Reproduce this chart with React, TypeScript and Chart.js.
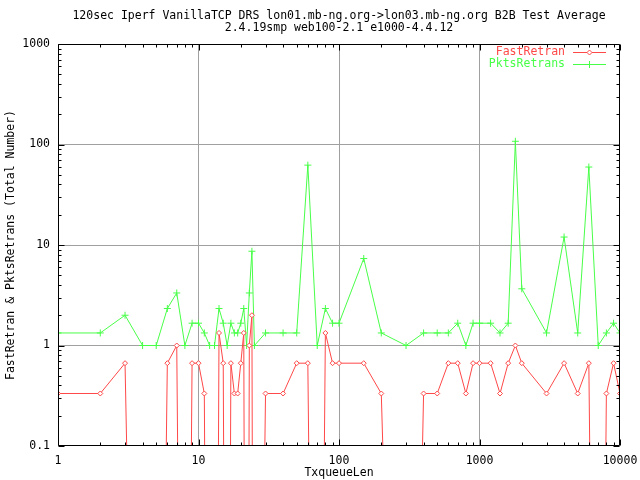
import React, { useEffect, useRef } from 'react';
import { Chart, registerables } from 'chart.js';

Chart.register(...registerables);

const TITLE_LINES = [
  '120sec Iperf VanillaTCP DRS lon01.mb-ng.org->lon03.mb-ng.org B2B Test Average',
  '2.4.19smp web100-2.1 e1000-4.4.12',
];
const X_TITLE = 'TxqueueLen';
const Y_TITLE = 'FastRetran & PktsRetrans (Total Number)';

const txqueueLen = [
  1, 2, 3, 4, 5, 6, 7, 8, 9, 10, 11, 12, 13, 14, 15, 16, 17, 18, 19, 20, 21, 22, 23, 24, 25,
  30, 40, 50, 60, 70, 80, 90, 100, 150, 200, 300, 400, 500, 600, 700, 800, 900, 1000,
  1200, 1400, 1600, 1800, 2000, 3000, 4000, 5000, 6000, 7000, 8000, 9000, 10000,
];
const fastRetran = [
  0.333, 0.333, 0.667, 0, 0, 0.667, 1, 0, 0.667, 0.667, 0.333, 0, 0, 1.333, 0.667, 0, 0.667, 0.333, 0.333, 0.667, 1.333, 0, 1, 2, 0,
  0.333, 0.333, 0.667, 0.667, 0, 1.333, 0.667, 0.667, 0.667, 0.333, 0, 0.333, 0.333, 0.667, 0.667, 0.333, 0.667, 0.667,
  0.667, 0.333, 0.667, 1, 0.667, 0.333, 0.667, 0.333, 0.667, 0, 0.333, 0.667, 0.333,
];
const pktsRetrans = [
  1.333, 1.333, 2, 1, 1, 2.333, 3.333, 1, 1.667, 1.667, 1.333, 1, 1, 2.333, 1.667, 1, 1.667, 1.333, 1.333, 1.667, 2.333, 1, 3.333, 8.667, 1,
  1.333, 1.333, 1.333, 62.333, 1, 2.333, 1.667, 1.667, 7.333, 1.333, 1, 1.333, 1.333, 1.333, 1.667, 1, 1.667, 1.667,
  1.667, 1.333, 1.667, 107.667, 3.667, 1.333, 12, 1.333, 59.667, 1, 1.333, 1.667, 1.333,
];

const xTicks = [1, 10, 100, 1000, 10000];
const xTickLabels = ['1', '10', '100', '1000', '10000'];
const yTicks = [0.1, 1, 10, 100, 1000];
const yTickLabels = ['0.1', '1', '10', '100', '1000'];

const RED = '#ff4848';
const GREEN = '#48ff48';
const GRID = '#a0a0a0';
const FAMILY = "'DejaVu Sans Mono', 'Liberation Mono', monospace";
const FONT_SIZE = 11.5;
// zero counts lie at -infinity on a log axis: plot them far below the axis so the line drops off the frame
const BELOW_AXIS = 1e-9;

const font = { family: FAMILY, size: FONT_SIZE, lineHeight: 1.05 };

const decorPlugin = {
  id: 'gnuplotDecor',
  afterDatasetsDraw(chart: any) {
    const { ctx, chartArea: a, scales } = chart;
    const xs = scales.x;
    const ys = scales.y;
    const L = Math.round(a.left) + 0.5;
    const R = Math.round(a.right) - 0.5;
    const T = Math.round(a.top) + 0.5;
    const B = Math.round(a.bottom) - 0.5;
    ctx.save();
    ctx.strokeStyle = '#000';
    ctx.lineWidth = 1;
    ctx.beginPath();
    for (let d = 1; d <= 10000; d *= 10) {
      for (let m = 1; m <= 9; m++) {
        const v = d * m;
        if (v > 10000) break;
        const p = Math.round(xs.getPixelForValue(v)) + 0.5;
        const len = m === 1 ? 6 : 3;
        ctx.moveTo(p, B); ctx.lineTo(p, B - len);
        ctx.moveTo(p, T); ctx.lineTo(p, T + len);
      }
    }
    for (let d = 0.1; d <= 1000.0001; d *= 10) {
      for (let m = 1; m <= 9; m++) {
        const v = d * m;
        if (v > 1000.0001) break;
        const p = Math.round(ys.getPixelForValue(v)) + 0.5;
        const len = m === 1 ? 6 : 3;
        ctx.moveTo(L, p); ctx.lineTo(L + len, p);
        ctx.moveTo(R, p); ctx.lineTo(R - len, p);
      }
    }
    ctx.rect(L, T, R - L, B - T);
    ctx.stroke();

    // title
    ctx.fillStyle = '#000';
    ctx.font = `${FONT_SIZE}px ${FAMILY}`;
    ctx.textAlign = 'center';
    ctx.textBaseline = 'middle';
    const cx = (a.left + a.right) / 2;
    TITLE_LINES.forEach((line, i) => ctx.fillText(line, cx, 16 + i * 12));

    // legend
    chart.data.datasets.forEach((ds: any, i: number) => {
      const y = Math.round(52 + i * 12) + 0.5;
      ctx.fillStyle = ds.borderColor;
      ctx.textAlign = 'right';
      ctx.fillText(ds.label, 565, y);
      ctx.strokeStyle = ds.borderColor;
      ctx.beginPath();
      ctx.moveTo(573, y);
      ctx.lineTo(606, y);
      ctx.stroke();
      const mx = 589.5;
      ctx.beginPath();
      if (ds.pointStyle === 'cross') {
        ctx.moveTo(mx - 3.5, y); ctx.lineTo(mx + 3.5, y);
        ctx.moveTo(mx, y - 3.5); ctx.lineTo(mx, y + 3.5);
        ctx.stroke();
      } else {
        ctx.moveTo(mx, y - 2.5); ctx.lineTo(mx + 2.5, y); ctx.lineTo(mx, y + 2.5); ctx.lineTo(mx - 2.5, y); ctx.closePath();
        ctx.fillStyle = '#fff';
        ctx.fill();
        ctx.stroke();
      }
    });
    ctx.restore();
  },
};

export default function App() {
  const ref = useRef<HTMLCanvasElement>(null);
  useEffect(() => {
    if (!ref.current) return;
    const gridColor = (edgeVals: number[]) => (c: any) =>
      c.tick && edgeVals.some((e) => Math.abs(c.tick.value - e) < 1e-9) ? 'rgba(0,0,0,0)' : GRID;
    const chart = new Chart(ref.current, {
      type: 'line',
      data: {
        datasets: [
          {
            label: 'FastRetran',
            data: txqueueLen.map((x, i) => ({ x, y: fastRetran[i] > 0 ? fastRetran[i] : BELOW_AXIS })),
            borderColor: RED,
            backgroundColor: RED,
            borderWidth: 1,
            pointStyle: 'rectRot',
            pointRadius: (c: any) => (fastRetran[c.dataIndex] > 0 ? 2.5 : 0),
            pointBorderColor: RED,
            pointBackgroundColor: '#fff',
            pointBorderWidth: 1,
            tension: 0,
            fill: false,
          },
          {
            label: 'PktsRetrans',
            data: txqueueLen.map((x, i) => ({ x, y: pktsRetrans[i] > 0 ? pktsRetrans[i] : BELOW_AXIS })),
            borderColor: GREEN,
            backgroundColor: GREEN,
            borderWidth: 1,
            pointStyle: 'cross',
            pointRadius: (c: any) => (pktsRetrans[c.dataIndex] > 0 ? 3.5 : 0),
            pointBorderColor: GREEN,
            pointBorderWidth: 1,
            tension: 0,
            fill: false,
          },
        ],
      },
      options: {
        animation: false,
        responsive: false,
        devicePixelRatio: 1,
        layout: { padding: { top: 44, right: 20, left: 0, bottom: 0 } },
        plugins: {
          legend: { display: false },
          title: { display: false },
          tooltip: { enabled: false },
        },
        scales: {
          x: {
            type: 'logarithmic',
            min: 1,
            max: 10000,
            afterBuildTicks: (s: any) => {
              s.ticks = xTicks.map((v) => ({ value: v }));
            },
            afterFit: (s: any) => {
              s.height = 34;
              s.paddingLeft = 0;
              s.paddingRight = 0;
            },
            ticks: {
              callback: (_v: any, i: number) => xTickLabels[i],
              font,
              color: '#000',
              padding: 9,
              maxRotation: 0,
              autoSkip: false,
            },
            grid: { color: gridColor([1, 10000]), drawTicks: false, lineWidth: 1 },
            border: { display: false },
            title: { display: true, text: X_TITLE, font, color: '#000', padding: { top: 0, bottom: 1 } },
          },
          y: {
            type: 'logarithmic',
            min: 0.1,
            max: 1000,
            afterBuildTicks: (s: any) => {
              s.ticks = yTicks.map((v) => ({ value: v }));
            },
            afterFit: (s: any) => {
              s.width = 58;
              s.paddingTop = 0;
              s.paddingBottom = 0;
            },
            ticks: {
              callback: (_v: any, i: number) => yTickLabels[i],
              font,
              color: '#000',
              padding: 8,
              autoSkip: false,
            },
            grid: { color: gridColor([0.1, 1000]), drawTicks: false, lineWidth: 1 },
            border: { display: false },
            title: { display: true, text: Y_TITLE, font, color: '#000', padding: { top: 5, bottom: 0 } },
          },
        },
      },
      plugins: [decorPlugin],
    } as any);
    return () => chart.destroy();
  }, []);
  return (
    <div style={{ position: 'absolute', left: 0, top: 0, width: 640, height: 480, background: '#fff' }}>
      <canvas ref={ref} width={640} height={480} style={{ display: 'block' }} />
    </div>
  );
}
